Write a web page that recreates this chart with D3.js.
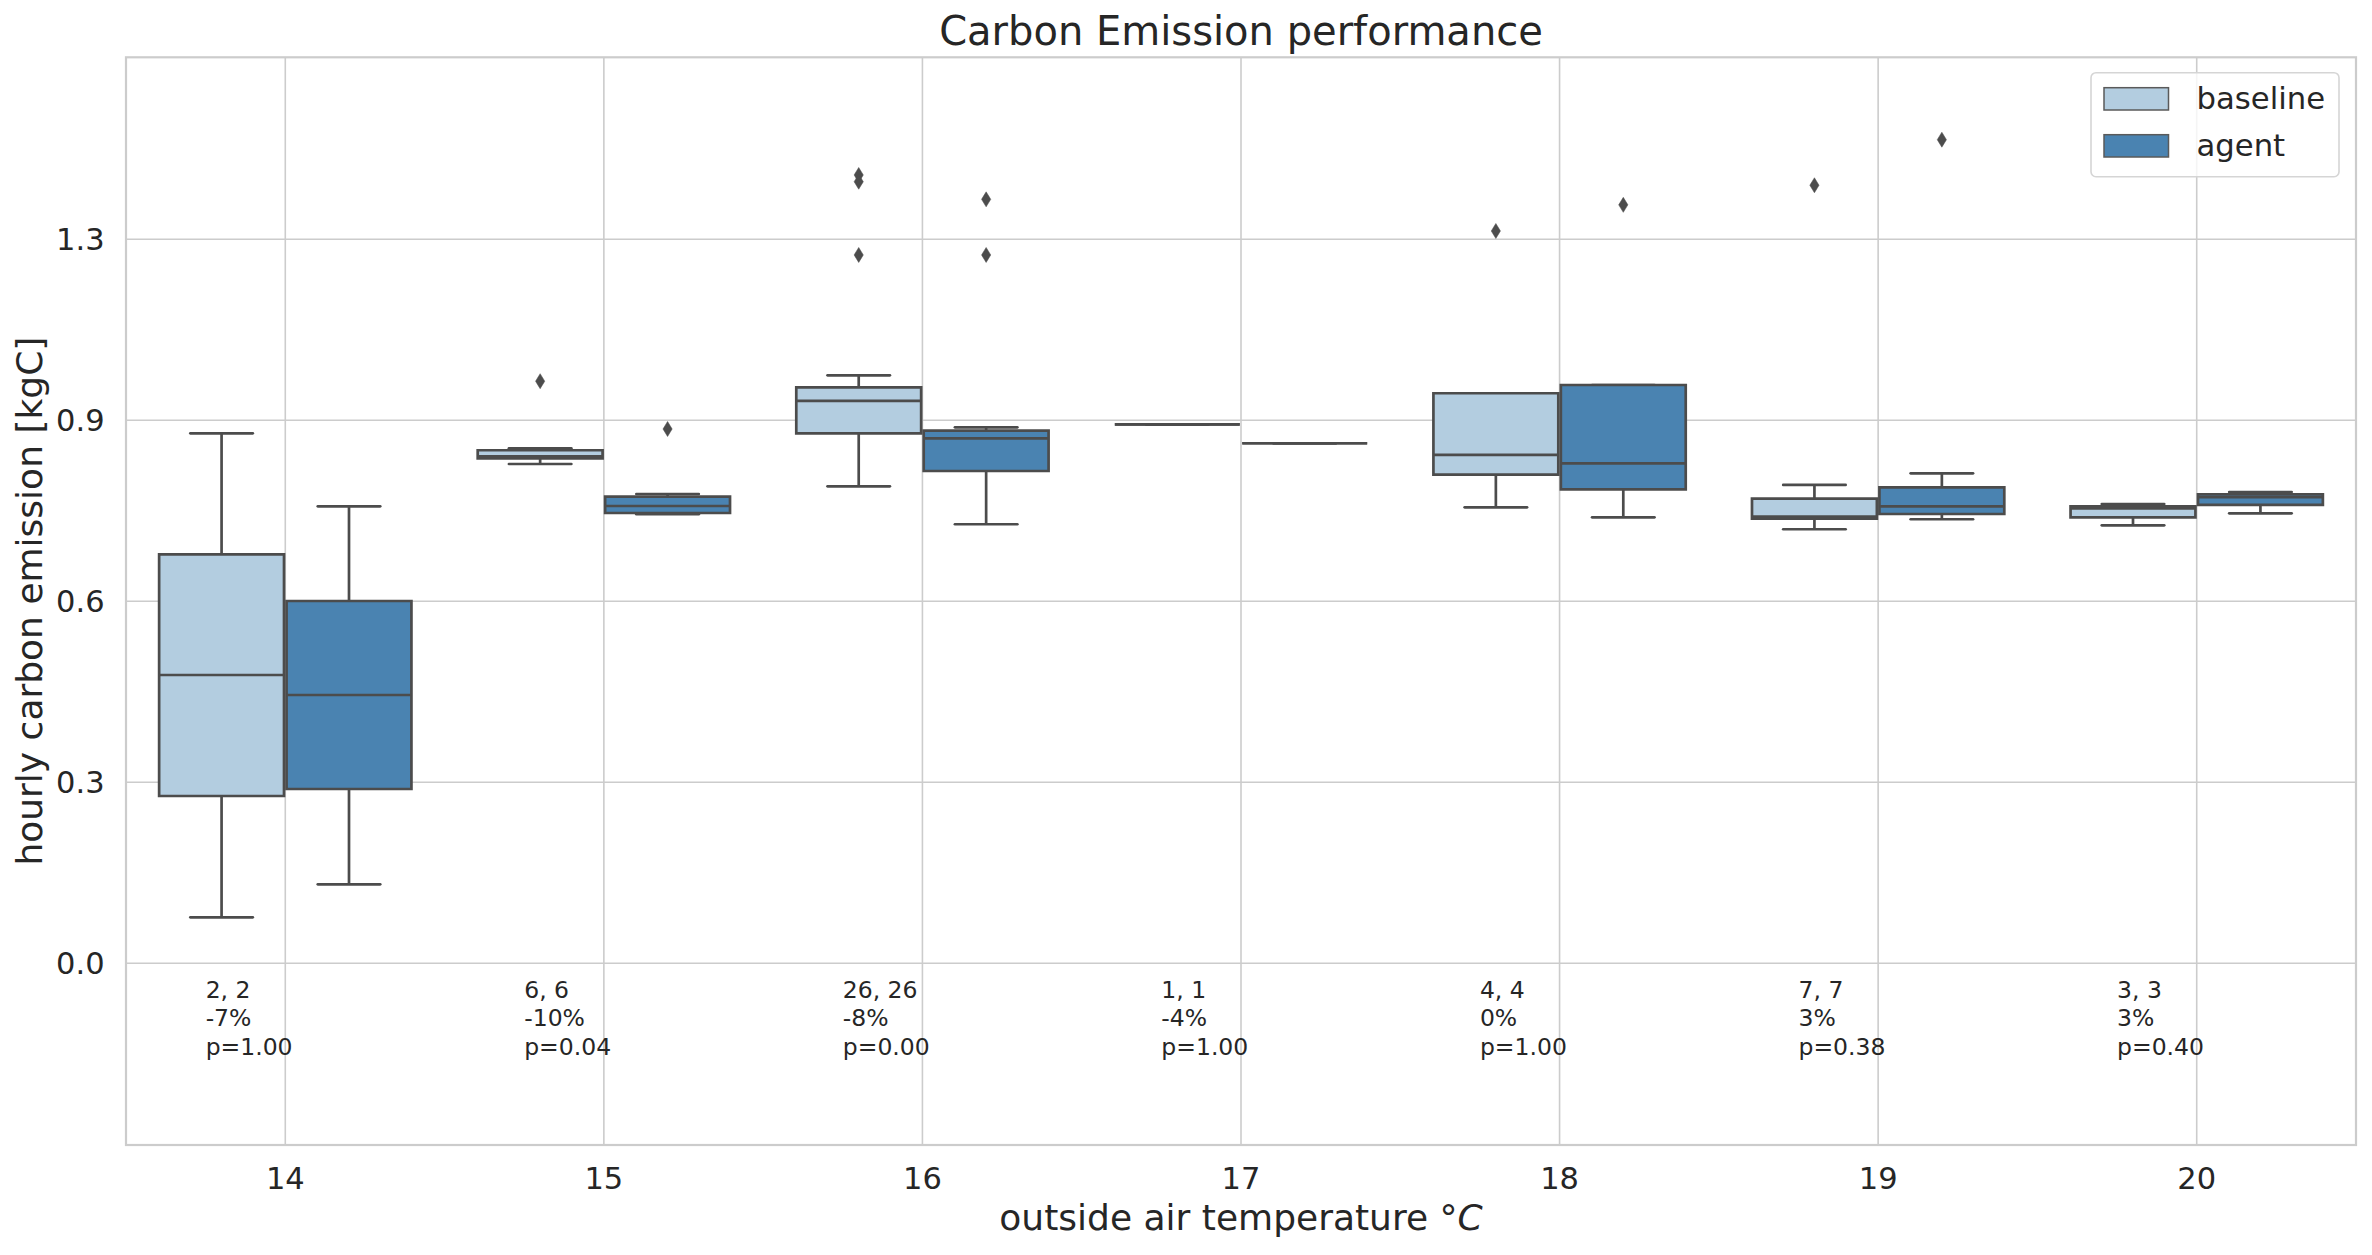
<!DOCTYPE html>
<html>
<head>
<meta charset="utf-8">
<script src="https://cdn.jsdelivr.net/npm/d3@7"></script>
<style>
  html, body { margin: 0; padding: 0; background: #ffffff; }
  svg { display: block; font-family: "DejaVu Sans", sans-serif; }
</style>
</head>
<body>
<svg id="chart" width="2372" height="1255"></svg>
<script>
// ---------------- data ----------------
const categories = ["14", "15", "16", "17", "18", "19", "20"];
const hues = ["baseline", "agent"];

// baseline statistics per category
const baselineLow    = [0.079, 0.8679, 0.829,  0.937, 0.7925, 0.7543, 0.7612];
const baselineQ1     = [0.2901, 0.8778, 0.9213, 0.937, 0.8493, 0.7727, 0.7751];
const baselineMedian = [0.5007, 0.8813, 0.9776, 0.937, 0.8836, 0.7762, 0.7908];
const baselineQ3     = [0.7107, 0.8918, 1.0014, 0.937, 0.991,  0.8075, 0.7943];
const baselineHigh   = [0.9213, 0.8952, 1.0223, 0.937, 0.991,  0.8314, 0.7983];
const baselineOutliers = [[], [1.012], [1.3709, 1.3592, 1.2317], [], [1.2734], [1.353], []];

// agent statistics per category
const agentLow    = [0.1364, 0.7804, 0.763,  0.904, 0.7751, 0.7717, 0.7821];
const agentQ1     = [0.3023, 0.7826, 0.8557, 0.904, 0.8238, 0.7809, 0.7966];
const agentMedian = [0.4659, 0.7948, 0.9126, 0.904, 0.869,  0.7943, 0.81];
const agentQ3     = [0.6295, 0.811,  0.9259, 0.904, 1.0054, 0.8273, 0.8152];
const agentHigh   = [0.7943, 0.8157, 0.9318, 0.904, 1.0054, 0.8517, 0.8192];
const agentOutliers = [[], [0.9288], [1.3285, 1.2317], [], [1.3189], [1.4323], []];

// annotation texts
const countLabels = ["2, 2", "6, 6", "26, 26", "1, 1", "4, 4", "7, 7", "3, 3"];
const changeLabels = ["-7%", "-10%", "-8%", "-4%", "0%", "3%", "3%"];
const pLabels = ["p=1.00", "p=0.04", "p=0.00", "p=1.00", "p=1.00", "p=0.38", "p=0.40"];

// y ticks (label text shown rounded to one decimal)
const yTicks = [0, 0.315, 0.63, 0.945, 1.26];
const yTickLabels = ["0.0", "0.3", "0.6", "0.9", "1.3"];

// ---------------- layout ----------------
const svg = d3.select("#chart");
const plot = { left: 126, right: 2356, top: 57.3, bottom: 1145 };
const gridColor = "#cccccc";
const lineColor = "#4c4c4c";
const textColor = "#262626";
const colors = { baseline: "#b3cde0", agent: "#4a83b1" };
const font = "'DejaVu Sans', sans-serif";

const x = d3.scaleBand().domain(categories).range([plot.left, plot.right]).padding(0);
const hueScale = d3.scaleBand().domain(hues).range([x.bandwidth() * 0.1, x.bandwidth() * 0.9]).padding(0);
const y = d3.scaleLinear().domain([-0.3173, 1.5757]).range([plot.bottom, plot.top]);

// background
svg.append("rect").attr("x", 0).attr("y", 0).attr("width", 2372).attr("height", 1255).attr("fill", "#ffffff");

// grid lines via axes
const gx = svg.append("g")
  .attr("transform", `translate(0,${plot.bottom})`)
  .call(d3.axisBottom(x).tickSize(-(plot.bottom - plot.top)).tickFormat(""));
gx.select(".domain").remove();
gx.selectAll(".tick line").attr("stroke", gridColor).attr("stroke-width", 1.6);

const gy = svg.append("g")
  .attr("transform", `translate(${plot.left},0)`)
  .call(d3.axisLeft(y).tickValues(yTicks).tickSize(-(plot.right - plot.left)).tickFormat(""));
gy.select(".domain").remove();
gy.selectAll(".tick line").attr("stroke", gridColor).attr("stroke-width", 1.6);

// ---------------- boxes ----------------
const stats = {
  baseline: { low: baselineLow, q1: baselineQ1, med: baselineMedian, q3: baselineQ3, high: baselineHigh, out: baselineOutliers },
  agent: { low: agentLow, q1: agentQ1, med: agentMedian, q3: agentQ3, high: agentHigh, out: agentOutliers }
};

const boxes = [];
hues.forEach(h => {
  categories.forEach((c, i) => {
    boxes.push({ hue: h, cat: c, low: stats[h].low[i], q1: stats[h].q1[i], med: stats[h].med[i],
                 q3: stats[h].q3[i], high: stats[h].high[i], out: stats[h].out[i] });
  });
});

const lw = 2.7;
const gBoxes = svg.append("g");
boxes.forEach(b => {
  const cx = x(b.cat) + hueScale(b.hue) + hueScale.bandwidth() / 2;
  const bw = hueScale.bandwidth() * 0.98;
  const x0 = cx - bw / 2, x1 = cx + bw / 2;
  const capHalf = bw / 4;
  const g = gBoxes.append("g");
  // whiskers
  g.append("line").attr("x1", cx).attr("x2", cx).attr("y1", y(b.q3)).attr("y2", y(b.high))
    .attr("stroke", lineColor).attr("stroke-width", lw);
  g.append("line").attr("x1", cx).attr("x2", cx).attr("y1", y(b.q1)).attr("y2", y(b.low))
    .attr("stroke", lineColor).attr("stroke-width", lw);
  // caps
  [b.low, b.high].forEach(v => {
    g.append("line").attr("x1", cx - capHalf).attr("x2", cx + capHalf).attr("y1", y(v)).attr("y2", y(v))
      .attr("stroke", lineColor).attr("stroke-width", lw).attr("stroke-linecap", "round");
  });
  // box
  const yt = y(b.q3), yb = y(b.q1);
  g.append("path").attr("d", `M${x0},${yt}H${x1}V${yb}H${x0}Z`)
    .attr("fill", colors[b.hue]).attr("stroke", lineColor).attr("stroke-width", lw)
    .attr("stroke-linejoin", "miter");
  // median
  g.append("line").attr("x1", x0).attr("x2", x1).attr("y1", y(b.med)).attr("y2", y(b.med))
    .attr("stroke", lineColor).attr("stroke-width", lw);
  // outliers (thin diamonds)
  b.out.forEach(v => {
    g.append("path")
      .attr("d", "M0,-7.5L4.6,0L0,7.5L-4.6,0Z")
      .attr("transform", `translate(${cx},${y(v)})`)
      .attr("fill", lineColor).attr("stroke", lineColor).attr("stroke-width", 0.5);
  });
});

// frame (spines)
svg.append("rect")
  .attr("x", plot.left).attr("y", plot.top)
  .attr("width", plot.right - plot.left).attr("height", plot.bottom - plot.top)
  .attr("fill", "none").attr("stroke", gridColor).attr("stroke-width", 2.2);

// ---------------- axes labels ----------------
const tickFont = 30.5;
const ax = svg.append("g")
  .attr("transform", `translate(0,${plot.bottom})`)
  .call(d3.axisBottom(x).tickSize(0).tickPadding(0));
ax.select(".domain").remove();
ax.selectAll("text").attr("dy", null).attr("y", 43.5)
  .attr("font-family", font).attr("font-size", tickFont).attr("fill", textColor);

const ay = svg.append("g")
  .attr("transform", `translate(${plot.left},0)`)
  .call(d3.axisLeft(y).tickValues(yTicks).tickSize(0).tickPadding(21.4)
        .tickFormat((d, i) => yTickLabels[i]));
ay.select(".domain").remove();
ay.selectAll("text").attr("dy", "0.37em")
  .attr("font-family", font).attr("font-size", tickFont).attr("fill", textColor);

// title
svg.append("text").attr("x", (plot.left + plot.right) / 2).attr("y", 45)
  .attr("text-anchor", "middle").attr("font-family", font).attr("font-size", 40)
  .attr("fill", textColor).text("Carbon Emission performance");

// x label
const xl = svg.append("text").attr("x", (plot.left + plot.right) / 2).attr("y", 1230)
  .attr("text-anchor", "middle").attr("font-family", font).attr("font-size", 36)
  .attr("fill", textColor);
xl.append("tspan").text("outside air temperature °");
xl.append("tspan").attr("font-style", "italic").text("C");

// y label
svg.append("text")
  .attr("transform", `translate(42,${(plot.top + plot.bottom) / 2}) rotate(-90)`)
  .attr("text-anchor", "middle").attr("font-family", font).attr("font-size", 36)
  .attr("fill", textColor).text("hourly carbon emission [kgC]");

// annotations below zero
const annFont = 23.5;
const gAnn = svg.append("g");
categories.forEach((c, i) => {
  const tx = x(c) + x.bandwidth() / 2 - 0.25 * x.bandwidth();
  const t = gAnn.append("text").attr("x", tx).attr("y", y(0) + 35.6)
    .attr("font-family", font).attr("font-size", annFont).attr("fill", textColor);
  [countLabels[i], changeLabels[i], pLabels[i]].forEach((s, k) => {
    t.append("tspan").attr("x", tx).attr("dy", k === 0 ? 0 : annFont * 1.2).text(s);
  });
});

// legend
const lg = svg.append("g");
lg.append("rect").attr("x", 2091).attr("y", 72.7).attr("width", 248).attr("height", 104)
  .attr("rx", 5).attr("ry", 5).attr("fill", "#ffffff").attr("fill-opacity", 0.8)
  .attr("stroke", "#d5d5d5").attr("stroke-width", 1.6);
hues.forEach((h, i) => {
  const py = 87.7 + i * 47;
  lg.append("rect").attr("x", 2104).attr("y", py).attr("width", 64.5).attr("height", 22.3)
    .attr("fill", colors[h]).attr("stroke", "#5a5a5a").attr("stroke-width", 1.5);
  lg.append("text").attr("x", 2196.5).attr("y", py + 21.3)
    .attr("font-family", font).attr("font-size", 30.7).attr("fill", textColor).text(h);
});
</script>
</body>
</html>
